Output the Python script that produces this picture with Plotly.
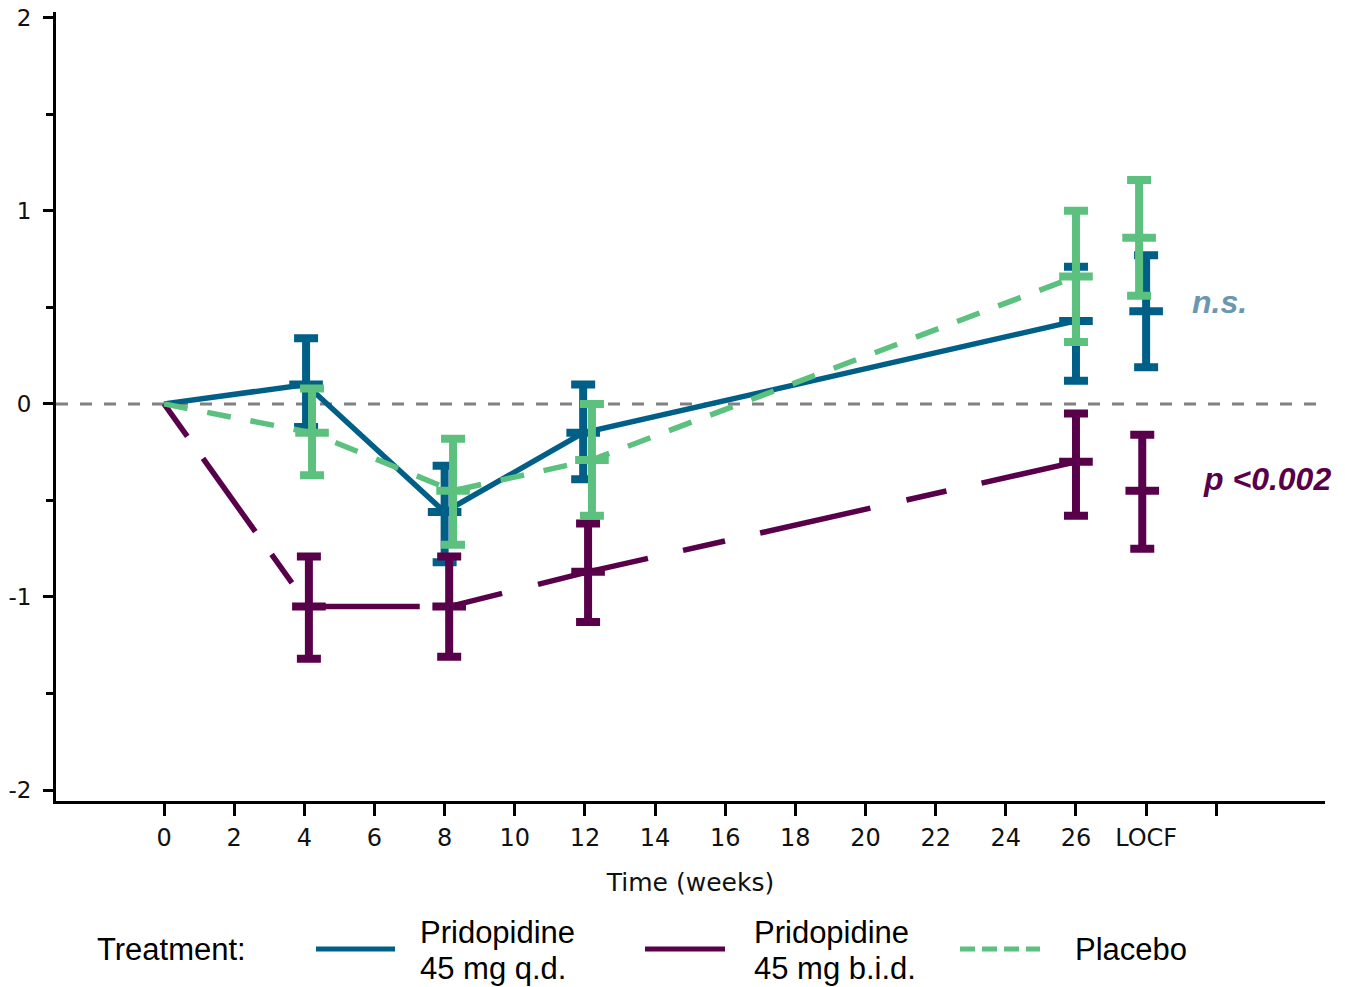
import numpy as np
import plotly.graph_objects as go

# ---------------- data ----------------
weeks_qd = [0, 4.05, 8.0, 11.95, 26]
weeks_bid = [0, 4.13, 8.13, 12.09, 26]
weeks_pbo = [0, 4.22, 8.24, 12.2, 26]

qd_mean = [0, 0.10, -0.56, -0.15, 0.43]
qd_upper = [0, 0.34, -0.32, 0.10, 0.71]
qd_lower = [0, -0.12, -0.82, -0.39, 0.12]

bid_mean = [0, -1.05, -1.05, -0.87, -0.30]
bid_upper = [0, -0.79, -0.79, -0.62, -0.05]
bid_lower = [0, -1.32, -1.31, -1.13, -0.58]

pbo_mean = [0, -0.15, -0.45, -0.29, 0.66]
pbo_upper = [0, 0.08, -0.18, 0.00, 1.00]
pbo_lower = [0, -0.37, -0.73, -0.58, 0.32]

# LOCF endpoint (x position, mean, lower, upper)
locf_x = {"qd": 28.0, "bid": 27.89, "pbo": 27.8}
locf_mean = {"qd": 0.48, "bid": -0.45, "pbo": 0.86}
locf_lower = {"qd": 0.19, "bid": -0.75, "pbo": 0.56}
locf_upper = {"qd": 0.77, "bid": -0.16, "pbo": 1.16}

x_tick_vals = [0, 2, 4, 6, 8, 10, 12, 14, 16, 18, 20, 22, 24, 26, 28, 30]
x_tick_text = ["0", "2", "4", "6", "8", "10", "12", "14", "16", "18", "20", "22", "24", "26", "LOCF", ""]
y_tick_vals = [-2, -1, 0, 1, 2]
y_tick_text = ["-2", "-1", "0", "1", "2"]

names = {"qd": "Pridopidine 45 mg q.d.", "bid": "Pridopidine 45 mg b.i.d.", "pbo": "Placebo"}
legend_lines = {"qd": ["Pridopidine", "45 mg q.d."], "bid": ["Pridopidine", "45 mg b.i.d."], "pbo": ["Placebo"]}
colors = {"qd": "#005f86", "bid": "#58004a", "pbo": "#5cc07f"}
dashes = {
    "qd": "solid",
    "bid": "40px,27px,90px,28px,35px,29px,111px,29px,55px,37px,113px,36px,43px,36px,113px,37px,41px,36px,300px",
    "pbo": "24px,20px",
}
widths = {"qd": 5.5, "bid": 5.5, "pbo": 5.5}

series = {
    "qd": (weeks_qd, qd_mean, qd_lower, qd_upper),
    "bid": (weeks_bid, bid_mean, bid_lower, bid_upper),
    "pbo": (weeks_pbo, pbo_mean, pbo_lower, pbo_upper),
}

fig = go.Figure()

# zero reference line
fig.add_shape(type="line", xref="paper", yref="y", x0=0, x1=1, y0=0, y1=0,
              line=dict(color="#808080", width=3, dash="12px,12px"), layer="below")

for key in ["qd", "bid", "pbo"]:
    x, m, lo, up = series[key]
    c = colors[key]
    fig.add_trace(go.Scatter(
        x=x, y=m, mode="lines", name=names[key], showlegend=False,
        line=dict(color=c, width=widths[key], dash=dashes[key]),
    ))
    xs = list(x[1:]) + [locf_x[key]]
    ms = np.array(list(m[1:]) + [locf_mean[key]])
    los = np.array(list(lo[1:]) + [locf_lower[key]])
    ups = np.array(list(up[1:]) + [locf_upper[key]])
    fig.add_trace(go.Scatter(
        x=xs, y=ms, mode="markers", showlegend=False, hoverinfo="skip", name=names[key],
        marker=dict(symbol="line-ew", size=24, color=c, line=dict(color=c, width=8)),
        error_y=dict(type="data", symmetric=False, array=ups - ms, arrayminus=ms - los,
                     color=c, thickness=8, width=12),
    ))

# annotations
fig.add_annotation(x=30.1, y=0.53, xref="x", yref="y", text="<b><i>n.s.</i></b>",
                   showarrow=False, font=dict(family="Liberation Sans, Arial", size=32, color="#6b97b0"))
fig.add_annotation(x=31.45, y=-0.39, xref="x", yref="y", text="<b><i>p &lt;0.002</i></b>",
                   showarrow=False, font=dict(family="Liberation Sans, Arial", size=32, color="#58004a"))

# manual legend (positions in screen pixels converted to paper fractions)
W, H0, B = 1269.0, 789.0, 801.0
def px(xp):
    return (xp - 56) / W
def py(yp):
    return (B - yp) / H0

legend_font = dict(family="Liberation Sans, Arial", size=31, color="#000000")
fig.add_annotation(x=px(95), y=py(949), xref="paper", yref="paper", text="Treatment:",
                   showarrow=False, xanchor="left", yanchor="middle", font=legend_font)
leg_items = [("qd", 316, 395, 418), ("bid", 645, 725, 752), ("pbo", 960, 1040, 1073)]
for key, x0, x1, xt in leg_items:
    fig.add_shape(type="line", xref="paper", yref="paper", x0=px(x0), x1=px(x1), y0=py(949), y1=py(949),
                  line=dict(color=colors[key], width=5,
                            dash="solid" if key != "pbo" else "15px,7px"))
    lines = legend_lines[key]
    ys = [949] if len(lines) == 1 else [932, 968]
    for t, yy in zip(lines, ys):
        fig.add_annotation(x=px(xt), y=py(yy), xref="paper", yref="paper", text=t,
                           showarrow=False, xanchor="left", yanchor="middle", align="left",
                           font=legend_font)

tick_font = dict(family="DejaVu Sans", size=24, color="#111111")
ytick_font = dict(family="DejaVu Sans", size=23, color="#111111")
fig.update_xaxes(
    range=[-3.08, 33.1], tickmode="array", tickvals=x_tick_vals, ticktext=x_tick_text,
    showline=True, linecolor="black", linewidth=3, ticks="outside", ticklen=12, tickwidth=2.5,
    tickcolor="black", showgrid=False, zeroline=False, tickfont=tick_font, ticklabelstandoff=1,
    automargin=False, ticklabeloverflow="allow",
    title=dict(text="Time (weeks)", font=dict(family="DejaVu Sans", size=25, color="#111111"), standoff=23),
)
fig.update_yaxes(
    range=[-2.057, 2.03], tickmode="array", tickvals=y_tick_vals, ticktext=y_tick_text,
    showline=True, linecolor="black", linewidth=3, ticks="outside", ticklen=10, tickwidth=2.5,
    tickcolor="black", showgrid=False, zeroline=False, tickfont=ytick_font, ticklabelstandoff=7,
    automargin=False, ticklabeloverflow="allow",
    minor=dict(tickvals=[-1.5, -0.5, 0.5, 1.5], ticks="outside", ticklen=7, tickwidth=2.5, tickcolor="black",
               showgrid=False),
)
fig.update_layout(
    width=1345, height=987, autosize=False,
    margin=dict(l=56, r=20, t=12, b=186),
    plot_bgcolor="white", paper_bgcolor="white", showlegend=False,
)
# remove the browser's default 8px body margin so the figure fills the window exactly
fig.write_html("out.html", config={"displayModeBar": False},
               post_script="document.body.style.margin='0';")
